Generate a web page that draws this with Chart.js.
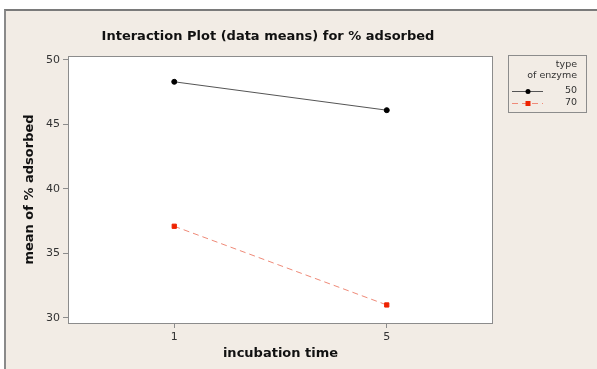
<!DOCTYPE html>
<html>
<head>
<meta charset="utf-8">
<script src="https://cdn.jsdelivr.net/npm/chart.js@4.4.1/dist/chart.umd.min.js"></script>
<style>
    html, body { margin: 0; padding: 0; background: #fff; }
    #frame {
        position: absolute; left: 4px; top: 9px; width: 593px; height: 360px;
        background: #f2ece5; border-top: 2px solid #7a7a7a; border-left: 2px solid #8a8a8a;
        box-sizing: border-box;
    }
    #wrap { position: absolute; left: 0; top: 0; width: 597px; height: 369px; }
</style>
</head>
<body>
<div id="frame"></div>
<div id="wrap"><canvas id="chart" width="597" height="369"></canvas></div>
<script>
const incubationTimes = ['1', '5'];
const enzyme50 = [48.3, 46.1];
const enzyme70 = [37.1, 31.0];
const yTicks = [30, 35, 40, 45, 50];
const enzymeTypes = ['50', '70'];

const framePlugin = {
    id: 'frame',
    beforeDraw(chart) {
        const { ctx, chartArea: a } = chart;
        ctx.save();
        ctx.fillStyle = '#ffffff';
        ctx.fillRect(a.left, a.top, a.right - a.left, a.bottom - a.top);
        ctx.restore();
    },
    afterDraw(chart) {
        const { ctx, chartArea: a } = chart;
        ctx.save();
        ctx.strokeStyle = '#8c8c8c';
        ctx.lineWidth = 1;
        ctx.strokeRect(a.left + 0.5, a.top + 0.5, a.right - a.left - 1, a.bottom - a.top);

        // title
        ctx.fillStyle = '#111';
        ctx.font = 'bold 13px "DejaVu Sans"';
        ctx.textAlign = 'center';
        ctx.textBaseline = 'middle';
        ctx.fillText('Interaction Plot (data means) for % adsorbed', 268, 37);

        // legend
        const lx = 508, ly = 55, lw = 78, lh = 57;
        ctx.strokeStyle = '#8c8c8c';
        ctx.strokeRect(lx + 0.5, ly + 0.5, lw, lh);
        ctx.fillStyle = '#333';
        ctx.font = '9.5px "DejaVu Sans"';
        ctx.textAlign = 'right';
        ctx.fillText('type', 577, 65);
        ctx.fillText('of enzyme', 577, 76);
        chart.data.datasets.forEach((ds, i) => {
            const y = 91 + i * 12;
            ctx.strokeStyle = ds.borderColor;
            ctx.lineWidth = 1;
            ctx.setLineDash(ds.borderDash || []);
            ctx.beginPath();
            ctx.moveTo(512, y + 0.5);
            ctx.lineTo(543, y + 0.5);
            ctx.stroke();
            ctx.setLineDash([]);
            ctx.fillStyle = ds.pointBackgroundColor;
            if (ds.pointStyle === 'rect') {
                ctx.fillRect(525.5, y - 2, 5, 5);
            } else {
                ctx.beginPath();
                ctx.arc(528, y + 0.5, 2.5, 0, Math.PI * 2);
                ctx.fill();
            }
            ctx.fillStyle = '#333';
            ctx.fillText(enzymeTypes[i], 577, y);
        });
        ctx.restore();
    }
};

new Chart(document.getElementById('chart').getContext('2d'), {
    type: 'line',
    data: {
        labels: incubationTimes,
        datasets: [
            {
                label: enzymeTypes[0],
                data: enzyme50,
                borderColor: '#555555',
                borderWidth: 1,
                pointBackgroundColor: '#000000',
                pointBorderColor: '#000000',
                pointStyle: 'circle',
                pointRadius: 2.5,
                fill: false,
            },
            {
                label: enzymeTypes[1],
                data: enzyme70,
                borderColor: '#ef8a78',
                borderWidth: 1,
                borderDash: [6, 4],
                pointBackgroundColor: '#ee2200',
                pointBorderColor: '#ee2200',
                pointStyle: 'rect',
                pointRadius: 3,
                fill: false,
            },
        ],
    },
    options: {
        responsive: false,
        animation: false,
        layout: {
            padding: { left: 0, top: 56, right: 104, bottom: 0 },
        },
        plugins: {
            legend: { display: false },
            title: { display: false },
            tooltip: { enabled: false },
        },
        scales: {
            x: {
                type: 'category',
                offset: true,
                afterFit: (s) => { s.height = 46; },
                grid: {
                    offset: false,
                    drawOnChartArea: false,
                    tickLength: 5,
                    color: '#8c8c8c',
                },
                border: { display: false },
                ticks: {
                    color: '#333',
                    padding: 3,
                    font: { family: 'DejaVu Sans', size: 11 },
                },
                title: {
                    display: true,
                    text: 'incubation time',
                    color: '#111',
                    padding: { top: 0, bottom: 8 },
                    font: { family: 'DejaVu Sans', size: 13, weight: 'bold' },
                },
            },
            y: {
                min: 29.6,
                max: 50.3,
                afterFit: (s) => { s.width = 68; },
                afterBuildTicks: (s) => { s.ticks = yTicks.map((v) => ({ value: v })); },
                grid: {
                    drawOnChartArea: false,
                    tickLength: 5,
                    color: '#8c8c8c',
                },
                border: { display: false },
                ticks: {
                    color: '#333',
                    padding: 3,
                    font: { family: 'DejaVu Sans', size: 11 },
                },
                title: {
                    display: true,
                    text: 'mean of % adsorbed',
                    color: '#111',
                    padding: { top: 22 },
                    font: { family: 'DejaVu Sans', size: 13, weight: 'bold' },
                },
            },
        },
    },
    plugins: [framePlugin],
});
</script>
</body>
</html>
